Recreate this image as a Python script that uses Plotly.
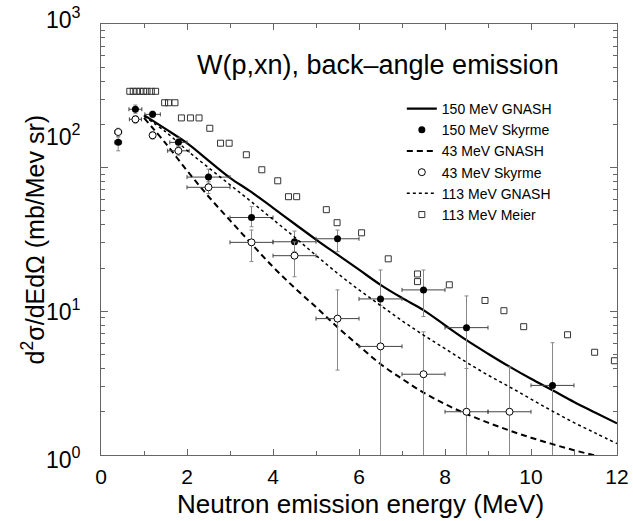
import plotly.graph_objects as go

# ---------------- data ----------------
# 150 MeV Skyrme (filled circles)
sk150_x = [0.4, 0.8, 1.2, 1.8, 2.5, 3.5, 4.5, 5.5, 6.5, 7.5, 8.5, 10.5]
sk150_y = [150, 255, 235, 150, 86, 45, 30.5, 32, 12.2, 14.1, 7.7, 3.05]
sk150_up = [14, 18, 12, 11, 11.6, 8.5, 5.7, 4.8, 7.2, 5.3, 5.1, 3.0]
sk150_dn = [19, 16, 12, 11, 8, 6.2, 4.5, 6.0, 11.7, 4.9, 7.2, 2.55]
sk150_xe = [0.08, 0.15, 0.18, 0.2, 0.5, 0.5, 0.5, 0.5, 0.5, 0.5, 0.5, 0.5]

# 43 MeV Skyrme (open circles)
sk43_x = [0.4, 0.8, 1.2, 1.8, 2.5, 3.5, 4.5, 5.5, 6.5, 7.5, 8.5, 9.5]
sk43_y = [177, 217, 168, 131, 73, 30.2, 24.4, 8.9, 5.7, 3.65, 2.0, 2.0]
sk43_up = [11, 13, 10, 9, 7, 6.6, 6, 5.2, 5.3, 3.55, 2.0, 2.1]
sk43_dn = [13, 13, 10, 9, 7, 8, 7, 5.0, 5.2, 3.15, 1.5, 1.5]
sk43_xe = [0.08, 0.14, 0.0, 0.25, 0.5, 0.5, 0.5, 0.5, 0.5, 0.5, 0.5, 0.5]

# 113 MeV Meier (open squares)
meier_x = [0.67, 0.75, 0.83, 0.91, 0.99, 1.07, 1.17, 1.27, 1.48, 1.57, 1.72,
           1.87, 2.08, 2.28, 2.53, 2.78, 2.98, 3.38, 3.74, 4.11, 4.36, 4.55,
           5.24, 5.49, 6.06, 6.68, 7.36, 7.36, 8.10, 8.93, 9.37, 9.83, 10.85,
           11.48, 11.94]
meier_y = [340, 340, 340, 340, 340, 340, 340, 340, 283, 283, 283,
           222, 222, 222, 188, 148, 148, 123, 96.7, 81, 62.8, 62.8,
           51, 41.4, 35.2, 23.2, 18.2, 16.1, 15.3, 11.9, 10.1, 7.82, 6.87,
           5.19, 4.53]

# GNASH calculations
gn_x = [1.0, 1.5, 2.0, 2.5, 3.0, 3.5, 4.0, 4.5, 5.0, 5.5, 6.0, 6.5, 7.0, 7.5,
        8.0, 8.5, 9.0, 9.5, 10.0, 10.5, 11.0, 11.5, 12.0]
gn150_y = [232, 186, 148, 112, 85, 67.6, 52.5, 40.7, 31.6, 24.8, 19.5, 15.3,
           12.4, 10.2, 8.0, 6.3, 5.07, 4.12, 3.39, 2.82, 2.34, 1.97, 1.66]
gn43_y = [222, 148, 95.5, 63, 43, 29.5, 20.4, 14.6, 10.7, 7.76, 5.75, 4.3,
          3.39, 2.72, 2.26, 1.93, 1.68, 1.48, 1.32, 1.19, 1.08, 0.99, 0.91]
gn113_y = [228, 178, 132, 100, 76, 57.8, 43.6, 32.9, 24.5, 18.4, 14.1, 11.0,
           8.6, 6.84, 5.5, 4.42, 3.6, 2.98, 2.45, 2.02, 1.68, 1.42, 1.2]

x_ticks = [0, 2, 4, 6, 8, 10, 12]
y_ticks = [1, 10, 100, 1000]
y_ticktext = ["10<sup>0</sup>", "10<sup>1</sup>", "10<sup>2</sup>", "10<sup>3</sup>"]
# where the printed y labels sit (paper fraction); the scan's labels are offset from the ticks
y_label_pos = [-0.007, 0.336, 0.742, 1.014]

# ---------------- figure ----------------
FONT = "Liberation Sans, Arial, Helvetica, sans-serif"
fig = go.Figure()

fig.add_trace(go.Scatter(
    x=gn_x, y=gn150_y, mode="lines", name="150 MeV GNASH",
    line=dict(color="black", width=2.2, shape="spline")))

fig.add_trace(go.Scatter(
    x=sk150_x, y=sk150_y, mode="markers", name="150 MeV Skyrme",
    marker=dict(symbol="circle", size=7, color="black"),
    error_y=dict(type="data", symmetric=False, array=sk150_up, arrayminus=sk150_dn,
                 color="#888", thickness=1, width=2),
    error_x=dict(type="data", array=sk150_xe, color="#444", thickness=1, width=2)))

fig.add_trace(go.Scatter(
    x=gn_x, y=gn43_y, mode="lines", name="43 MeV GNASH",
    line=dict(color="black", width=2, dash="6px,4px", shape="spline")))

fig.add_trace(go.Scatter(
    x=sk43_x, y=sk43_y, mode="markers", name="43 MeV Skyrme",
    marker=dict(symbol="circle", size=7, color="white",
                line=dict(color="black", width=1)),
    error_y=dict(type="data", symmetric=False, array=sk43_up, arrayminus=sk43_dn,
                 color="#888", thickness=1, width=2),
    error_x=dict(type="data", array=sk43_xe, color="#444", thickness=1, width=2)))

fig.add_trace(go.Scatter(
    x=gn_x, y=gn113_y, mode="lines", name="113 MeV GNASH",
    line=dict(color="black", width=1.5, dash="dot", shape="spline")))

fig.add_trace(go.Scatter(
    x=meier_x, y=meier_y, mode="markers", name="113 MeV Meier",
    marker=dict(symbol="square-open", size=6, color="#333",
                line=dict(width=1))))

fig.add_annotation(
    text="W(p,xn), back\u2013angle emission", xref="paper", yref="paper",
    x=0.537, y=0.905, xanchor="center", yanchor="middle", showarrow=False,
    font=dict(family=FONT, size=27, color="black"))

fig.add_annotation(
    text="d<sup>2</sup>\u03c3/dEd\u03a9 (mb/Mev sr)", xref="paper", yref="paper",
    x=-0.132, y=0.5, xanchor="center", yanchor="middle", textangle=-90,
    showarrow=False, font=dict(family=FONT, size=25, color="black"))

fig.add_annotation(
    text="Neutron emission energy (MeV)", xref="paper", yref="paper",
    x=0.502, y=-0.113, xanchor="center", yanchor="middle", showarrow=False,
    font=dict(family=FONT, size=26, color="black"))

for txt, pos in zip(y_ticktext, y_label_pos):
    fig.add_annotation(
        text=txt, xref="paper", yref="paper", x=-0.035, y=pos,
        xanchor="right", yanchor="middle", showarrow=False,
        font=dict(family=FONT, size=23, color="black"))

axis_common = dict(
    showline=True, linecolor="#666", linewidth=1, mirror="allticks",
    ticks="inside", tickcolor="#666", showgrid=False, zeroline=False,
    automargin=False,
)

fig.update_xaxes(
    range=[0, 12], tickvals=x_ticks, ticklen=6, ticklabelstandoff=3,
    tickfont=dict(family=FONT, size=21, color="black"),
    minor=dict(dtick=1, ticks="inside", ticklen=4, tickcolor="#666"),
    **axis_common)

fig.update_yaxes(
    type="log", range=[0, 3], tickvals=y_ticks, showticklabels=False,
    ticklen=7,
    minor=dict(tickmode="array",
               tickvals=[v * m for m in (1, 10, 100) for v in range(2, 10)],
               ticks="inside", ticklen=4, tickcolor="#666"),
    **axis_common)

fig.update_layout(
    width=633, height=521,
    margin=dict(l=101, r=16, t=24, b=66),
    paper_bgcolor="white", plot_bgcolor="white",
    showlegend=True,
    legend=dict(x=0.583, y=0.84, xanchor="left", yanchor="top",
                bgcolor="rgba(0,0,0,0)", font=dict(family=FONT, size=14, color="black"),
                itemwidth=30, tracegroupgap=0),
    font=dict(family=FONT),
)

fig.write_html("out.html", config={"displayModeBar": False},
               post_script="document.body.style.margin='0';document.body.style.padding='0';")
